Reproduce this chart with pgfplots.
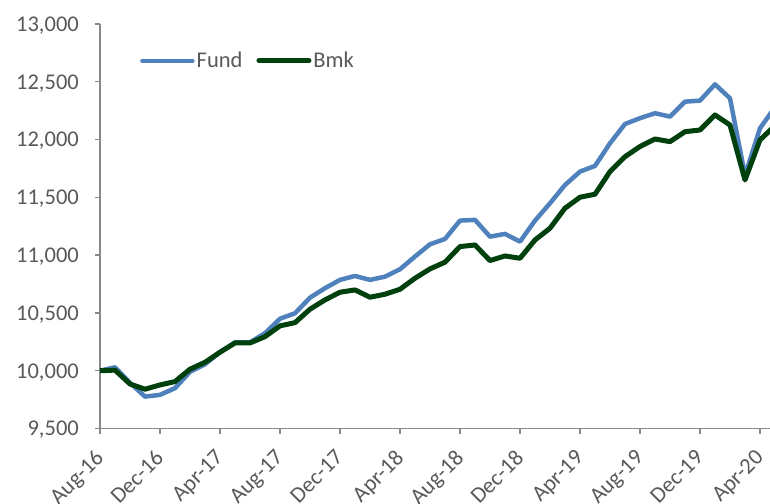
\documentclass[border=0pt]{standalone}
\usepackage{pgfplots}
\pgfplotsset{compat=1.18}
\usepackage{pgfplotstable}
\usepackage{fontspec}
\setmainfont{Carlito}

\definecolor{fundblue}{HTML}{4F81BD}
\definecolor{bmkgreen}{HTML}{00400C}
\definecolor{axisgray}{HTML}{888888}
\definecolor{labelgray}{HTML}{595959}

% month index 0 = Aug-16
\pgfplotstableread{
m fund bmk
0 10000 10000
1 10030 10005
2 9895 9885
3 9776 9840
4 9791 9877
5 9849 9906
6 9990 10013
7 10056 10073
8 10160 10160
9 10245 10240
10 10245 10240
11 10325 10295
12 10450 10388
13 10497 10416
14 10632 10532
15 10714 10613
16 10786 10679
17 10820 10699
18 10786 10636
19 10814 10662
20 10878 10705
21 10988 10800
22 11094 10881
23 11140 10939
24 11299 11074
25 11305 11088
26 11160 10953
27 11184 10993
28 11117 10973
29 11299 11131
30 11449 11233
31 11607 11406
32 11723 11501
33 11772 11527
34 11968 11723
35 12135 11852
36 12185 11940
37 12228 12005
38 12199 11982
39 12328 12068
40 12337 12083
41 12478 12213
42 12357 12126
43 11690 11650
44 12098 11997
45 12280 12120
}\perf

\begin{document}
\begin{tikzpicture}
\begin{axis}[
  name=ax,
  scale only axis,
  width=670bp, height=404.5bp,
  xmin=0, xmax=44.667,
  ymin=9500, ymax=13000,
  axis lines=left,
  axis line style={-, axisgray, line width=1.4bp},
  tick style={axisgray, line width=1.4bp},
  tick align=outside,
  major tick length=5bp,
  xtick={0,4,...,44},
  xticklabels={Aug-16,Dec-16,Apr-17,Aug-17,Dec-17,Apr-18,Aug-18,Dec-18,Apr-19,Aug-19,Dec-19,Apr-20},
  ytick={9500,10000,...,13000},
  scaled y ticks=false,
  /pgf/number format/.cd, 1000 sep={,}, assume math mode=true,
  /pgfplots/.cd,
  tick label style={font=\fontsize{22.5bp}{26bp}\selectfont, text=labelgray},
  xticklabel style={xshift=-6bp, yshift=-12bp, rotate=45, anchor=north east, inner sep=2bp},
  yticklabel style={inner sep=2bp, xshift=-14bp, yshift=-1.5bp},
  legend style={draw=none, fill=none, at={(0.0552,0.909)}, anchor=west,
    font=\fontsize{22.5bp}{26bp}\selectfont, text=labelgray,
    nodes={inner sep=2bp},
    /tikz/every even column/.append style={column sep=12bp}},
  legend columns=2,
  legend image code/.code={\draw[#1, line cap=round] (0bp,0bp) -- (50bp,0bp);},
  clip=true,
]
\addplot[fundblue, line width=4.5bp, line join=round] table[x=m, y=fund] {\perf};
\addlegendentry{Fund}
\addplot[bmkgreen, line width=5bp, line join=round] table[x=m, y=bmk] {\perf};
\addlegendentry{Bmk}
\end{axis}
\pgfresetboundingbox
\path[use as bounding box] ([xshift=-100bp, yshift=-75.5bp]ax.south west) rectangle ([yshift=24bp]ax.north east);
\end{tikzpicture}
\end{document}
